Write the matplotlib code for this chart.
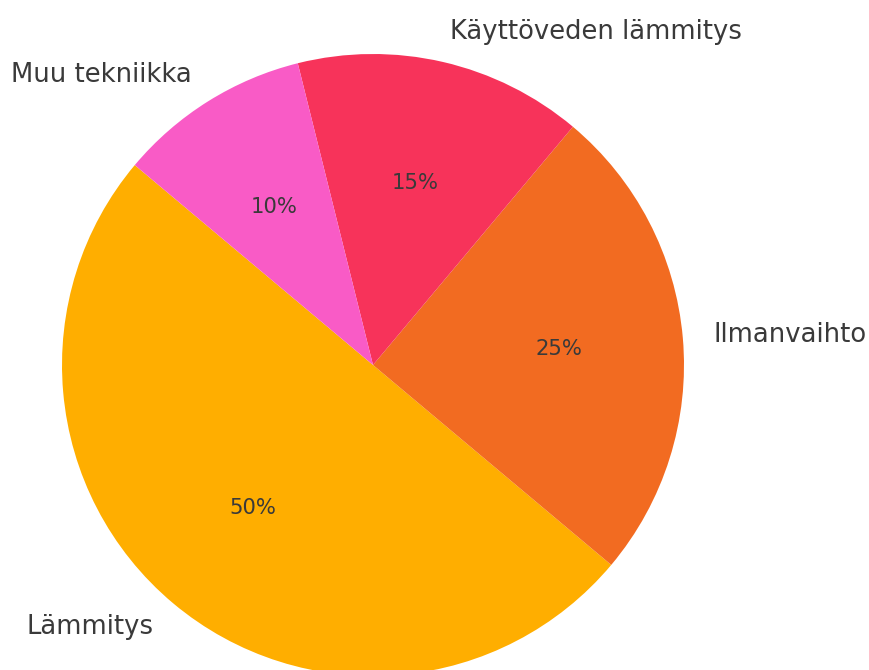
import matplotlib.pyplot as plt

# data
labels = ["Lämmitys", "Ilmanvaihto", "Käyttöveden lämmitys", "Muu tekniikka"]
values = [50, 25, 15, 10]
colors = ["#FFAE00", "#F26B21", "#F7335A", "#F95BC6"]

fig = plt.figure(figsize=(8.69, 6.7), dpi=100)
# pie center at (373, 365) px from top-left, radius 311 px
half = 311 * 1.25
ax = fig.add_axes([(373 - half) / 869, (670 - 365 - half) / 670,
                   2 * half / 869, 2 * half / 670])

wedges, texts, autotexts = ax.pie(values, labels=labels, colors=colors,
                                  autopct="%1.0f%%", startangle=140,
                                  labeldistance=1.1, pctdistance=0.6,
                                  textprops={"color": "#3a3a3a"})
for t in texts:
    t.set_fontsize(18.6)
for t in autotexts:
    t.set_fontsize(15.2)

ax.set_xlim(-1.25, 1.25)
ax.set_ylim(-1.25, 1.25)
ax.set_aspect("auto")
ax.axis("off")

fig.savefig("out.png", dpi=100)
